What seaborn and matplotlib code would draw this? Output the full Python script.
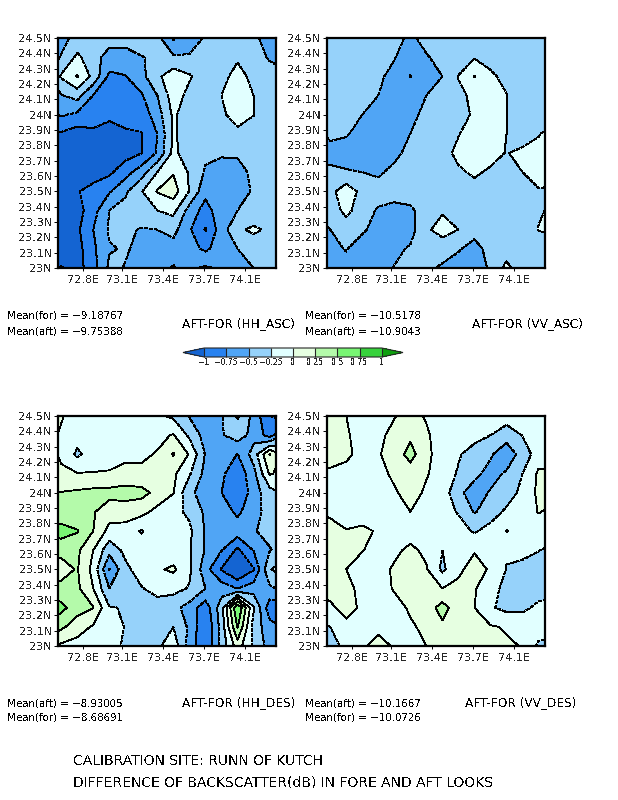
import matplotlib
matplotlib.use('Agg')
import numpy as np
import matplotlib.pyplot as plt
import seaborn as sns

# grid, 0.125 degree steps
lons = [72.5, 72.625, 72.75, 72.875, 73.0, 73.125, 73.25, 73.375,
        73.5, 73.625, 73.75, 73.875, 74.0, 74.125, 74.25, 74.375]
lats = [24.5, 24.375, 24.25, 24.125, 24.0, 23.875, 23.75,
        23.625, 23.5, 23.375, 23.25, 23.125, 23.0]

hh_asc = [
    [-.7, -.6, -.4, -.4, -.4, -.4, -.25, -.42, -.78, -.6, -.48, -.4, -.4, -.45, -.6, -.7],
    [-.7, -.48, -.2, -.4, -.6, -.6, -.52, -.42, -.47, -.48, -.42, -.4, -.3, -.42, -.52, -.6],
    [-.6, -.22, .02, -.32, -.8, -.76, -.58, -.3, -.1, -.22, -.4, -.36, -.12, -.35, -.42, -.45],
    [-.62, -.52, -.4, -.76, -.85, -.85, -.78, -.5, -.12, -.33, -.42, -.25, -.12, -.25, -.42, -.45],
    [-.85, -.72, -.8, -.88, -.99, -.95, -.9, -.62, -.2, -.42, -.45, -.3, -.13, -.24, -.42, -.45],
    [-1.05, -1.03, -1.12, -1.05, -1.02, -1.02, -1.01, -.75, -.2, -.42, -.42, -.42, -.32, -.4, -.42, -.42],
    [-1.2, -1.2, -1.2, -1.2, -1.15, -1.1, -1.01, -.72, -.18, -.42, -.45, -.47, -.47, -.42, -.42, -.42],
    [-1.3, -1.3, -1.25, -1.2, -1.05, -.85, -.62, -.25, -.02, -.28, -.53, -.6, -.58, -.45, -.42, -.42],
    [-1.3, -1.3, -1.03, -.85, -.78, -.55, -.27, .02, .12, -.26, -.68, -.6, -.58, -.48, -.42, -.42],
    [-1.3, -1.25, -1.1, -.85, -.5, -.4, -.33, -.25, -.18, -.6, -.85, -.6, -.5, -.45, -.42, -.42],
    [-1.3, -1.2, -1.05, -.75, -.47, -.45, -.52, -.5, -.42, -.72, -1.02, -.62, -.3, -.2, -.3, -.42],
    [-1.3, -1.2, -1.1, -.8, -.52, -.48, -.55, -.6, -.6, -.65, -.8, -.62, -.5, -.42, -.45, -.42],
    [-1.1, -.98, -1.1, -.85, -.45, -.51, -.55, -.6, -.78, -.55, -.46, -.55, -.52, -.5, -.42, -.42],
]

vv_asc = [
    [-.4, -.4, -.4, -.42, -.45, -.42, -.55, -.42, -.4, -.4, -.4, -.4, -.4, -.4, -.4, -.4],
    [-.4, -.4, -.4, -.4, -.42, -.49, -.6, -.52, -.42, -.4, -.27, -.35, -.42, -.4, -.4, -.4],
    [-.42, -.42, -.42, -.42, -.47, -.55, -.76, -.58, -.5, -.24, .01, -.2, -.33, -.4, -.4, -.4],
    [-.42, -.42, -.42, -.45, -.5, -.6, -.58, -.5, -.42, -.3, -.2, -.12, -.24, -.4, -.4, -.4],
    [-.45, -.45, -.45, -.5, -.58, -.58, -.55, -.45, -.42, -.33, -.22, -.12, -.25, -.4, -.42, -.42],
    [-.55, -.47, -.48, -.58, -.62, -.6, -.5, -.42, -.36, -.26, -.15, -.1, -.25, -.36, -.27, -.1],
    [-.55, -.55, -.6, -.62, -.64, -.55, -.44, -.4, -.32, -.2, -.15, -.18, -.26, -.2, -.15, -.1],
    [-.45, -.47, -.48, -.5, -.53, -.45, -.42, -.42, -.38, -.28, -.22, -.28, -.38, -.25, -.2, -.12],
    [-.42, -.33, -.1, -.33, -.42, -.42, -.42, -.42, -.49, -.4, -.32, -.4, -.42, -.38, -.26, -.3],
    [-.5, -.42, -.16, -.42, -.52, -.56, -.53, -.42, -.27, -.38, -.42, -.42, -.42, -.42, -.28, -.2],
    [-.55, -.5, -.42, -.47, -.58, -.6, -.6, -.28, -.18, -.25, -.42, -.42, -.42, -.42, -.24, -.2],
    [-.58, -.55, -.49, -.6, -.58, -.56, -.47, -.42, -.35, -.48, -.58, -.42, -.38, -.4, -.4, -.4],
    [-.58, -.56, -.56, -.58, -.56, -.49, -.42, -.44, -.55, -.6, -.65, -.46, -.18, -.42, -.4, -.4],
]

hh_des = [
    [.2, .02, -.1, -.1, -.1, -.12, -.14, -.2, -.3, -.52, -.57, -.52, -.22, -.58, -1.0, -1.2],
    [.1, -.03, -.15, -.12, -.1, -.08, -.08, -.07, .02, -.3, -.6, -.52, -.38, -.58, -.85, -.45],
    [.1, -.03, -.3, -.12, -.1, -.06, -.05, .02, .27, -.02, -.52, -.58, -.76, -.4, .26, -.1],
    [.1, .03, .01, .01, .02, .08, .06, .07, .05, -.22, -.58, -.7, -.92, -.58, .03, -.1],
    [.28, .26, .29, .32, .33, .35, .33, .18, .01, -.45, -.6, -.75, -1.0, -.62, -.35, -.2],
    [.3, .3, .26, .27, .12, .12, .08, -.08, -.18, -.3, -.55, -.62, -.8, -.6, -.4, -.25],
    [.55, .62, .52, .25, -.08, -.1, -.27, -.12, -.1, -.2, -.52, -.65, -.62, -.52, -.42, -.4],
    [.35, .32, .3, .0, -.42, -.18, -.12, -.12, -.15, -.23, -.52, -.74, -1.05, -.74, -.52, -.37],
    [.05, .15, .27, -.08, -.76, -.32, -.12, -.03, .04, -.2, -.65, -1.02, -1.3, -1.02, -.27, -.1],
    [.35, .32, .3, .0, -.5, -.35, -.27, -.15, -.17, -.27, -.5, -.62, -.75, -.62, -.55, -.42],
    [.65, .58, .35, .26, -.23, -.27, -.35, -.38, -.42, -.6, -.9, -.35, .75, -.22, -.9, -.9],
    [.45, .3, .12, -.03, -.15, -.26, -.3, -.3, -.25, -.55, -1.0, -.4, .52, -.35, -.65, -.8],
    [.1, -.05, -.1, -.15, -.2, -.27, -.4, -.3, -.1, -.6, -.95, -.42, .12, -.3, -.6, -.75],
]

vv_des = [
    [.1, .08, .0, -.1, -.08, -.01, .07, -.02, -.08, -.1, -.1, -.12, -.12, -.12, -.12, -.12],
    [.1, .1, .03, -.1, -.04, .05, .2, .03, -.1, -.1, -.15, -.25, -.4, -.24, -.1, -.1],
    [.1, .07, .05, -.08, -.02, .1, .35, .05, -.1, -.22, -.38, -.47, -.65, -.4, -.12, -.1],
    [-.02, -.03, -.08, -.1, -.08, .05, .12, .02, -.1, -.28, -.44, -.58, -.47, -.25, .04, .03],
    [-.1, -.1, -.1, -.1, -.08, -.03, .1, -.04, -.1, -.45, -.6, -.48, -.38, -.18, .05, .05],
    [.0, -.02, -.1, -.1, -.1, -.1, .0, -.1, -.15, -.27, -.52, -.38, -.2, -.12, .01, -.05],
    [.05, .04, .01, .04, -.02, -.1, -.1, -.1, -.1, -.15, -.28, -.15, .01, -.1, -.1, -.08],
    [.1, .08, .04, .01, -.08, -.05, .05, -.05, -.25, -.1, -.02, -.13, -.22, -.15, -.24, -.35],
    [.05, .07, .0, -.1, -.08, .03, .08, .02, -.3, -.05, .1, -.03, -.26, -.35, -.38, -.38],
    [.05, .04, .03, -.03, -.1, .02, .08, .08, .0, .06, .02, -.15, -.33, -.35, -.35, -.35],
    [-.1, -.02, .04, -.02, -.1, -.08, .03, .12, .35, .1, .0, -.22, -.32, -.3, -.2, -.15],
    [-.3, -.25, -.03, -.08, -.05, -.05, -.03, .05, .2, .1, .07, .02, -.02, -.1, -.12, -.1],
    [-.45, -.45, -.12, -.03, .07, -.02, -.08, .0, .05, .05, .05, .05, .03, -.01, -.3, -.35],
]

levels = [-1, -.75, -.5, -.25, 0, .25, .5, .75, 1]
band_colors = ['#1464D2', '#2882F0', '#50A5F5', '#96D2FA', '#E1FFFF',
               '#E6FFE1', '#B4FAAA', '#78F573', '#37D23C', '#0FA00F']

lat_ticks = [24.5, 24.4, 24.3, 24.2, 24.1, 24.0, 23.9, 23.8, 23.7, 23.6,
             23.5, 23.4, 23.3, 23.2, 23.1, 23.0]
lat_labels = ['24.5N', '24.4N', '24.3N', '24.2N', '24.1N', '24N', '23.9N', '23.8N',
              '23.7N', '23.6N', '23.5N', '23.4N', '23.3N', '23.2N', '23.1N', '23N']
lon_ticks = [72.795, 73.10, 73.42, 73.74, 74.06]
lon_labels = ['72.8E', '73.1E', '73.4E', '73.7E', '74.1E']

sns.set_style('white')
palette = sns.color_palette(band_colors)
plt.rcParams['font.family'] = ['DejaVu Sans']
plt.rcParams['text.antialiased'] = False

W, H = 618, 800
fig = plt.figure(figsize=(W / 100, H / 100), dpi=100)


def px_axes(left, top, right, bottom):
    return fig.add_axes([left / W, 1 - bottom / H, (right - left) / W, (bottom - top) / H])


def panel(left, top, values):
    ax = px_axes(left, top, left + 218, top + 230)
    cf = ax.contourf(lons, lats, np.array(values), levels=levels, colors=palette,
                     extend='both', antialiased=False)
    ax.contour(lons, lats, np.array(values), levels=levels, colors='black',
               linewidths=0.6, antialiased=False,
               negative_linestyles=(0, (3.6, 2.4)))
    ax.set_xlim(72.6, 74.3)
    ax.set_ylim(23, 24.5)
    ax.set_xticks(lon_ticks)
    ax.set_xticklabels(lon_labels, fontsize=8)
    ax.set_yticks(lat_ticks)
    ax.set_yticklabels(lat_labels, fontsize=8)
    ax.tick_params(axis='y', length=3, width=0.7, pad=1.5, color='black', left=True)
    ax.tick_params(axis='x', length=2, width=0.7, pad=3, color='black', bottom=True)
    for s in ax.spines.values():
        s.set_linewidth(1.6)
        s.set_color('black')
    return cf


panel(58, 38, hh_asc)
panel(327, 38, vv_asc)
panel(58, 416, hh_des)
cf = panel(327, 416, vv_des)

# colour key
cax = px_axes(183, 348, 403, 357)
cb = fig.colorbar(cf, cax=cax, orientation='horizontal', extend='both',
                  extendfrac=0.12, drawedges=True, ticks=levels)
cb.ax.set_xticklabels(['\u22121', '\u22120.75', '\u22120.5', '\u22120.25', '0', '0.25', '0.5', '0.75', '1'],
                      fontsize=5.6)
cb.ax.tick_params(length=0, pad=1)
cb.outline.set_linewidth(0.8)
cb.dividers.set_linewidth(0.8)


def label(x, y, s, size=7.4):
    fig.text(x / W, 1 - y / H, s, fontsize=size, va='center', ha='left', color='black')


label(7, 316, 'Mean(for) = \u22129.18767')
label(7, 331, 'Mean(aft) = \u22129.75388')
label(182, 324, 'AFT-FOR (HH_ASC)', 8.7)
label(305, 316, 'Mean(for) = \u221210.5178')
label(305, 331, 'Mean(aft) = \u221210.9043')
label(472, 324, 'AFT-FOR (VV_ASC)', 8.7)
label(7, 703, 'Mean(aft) = \u22128.93005')
label(7, 717, 'Mean(for) = \u22128.68691')
label(182, 703, 'AFT-FOR (HH_DES)', 8.7)
label(305, 703, 'Mean(aft) = \u221210.1667')
label(305, 717, 'Mean(for) = \u221210.0726')
label(465, 703, 'AFT-FOR (VV_DES)', 8.7)
label(73, 761, 'CALIBRATION SITE: RUNN OF KUTCH', 10)
label(73, 783, 'DIFFERENCE OF BACKSCATTER(dB) IN FORE AND AFT LOOKS', 10)

fig.savefig('out.png', dpi=100)
